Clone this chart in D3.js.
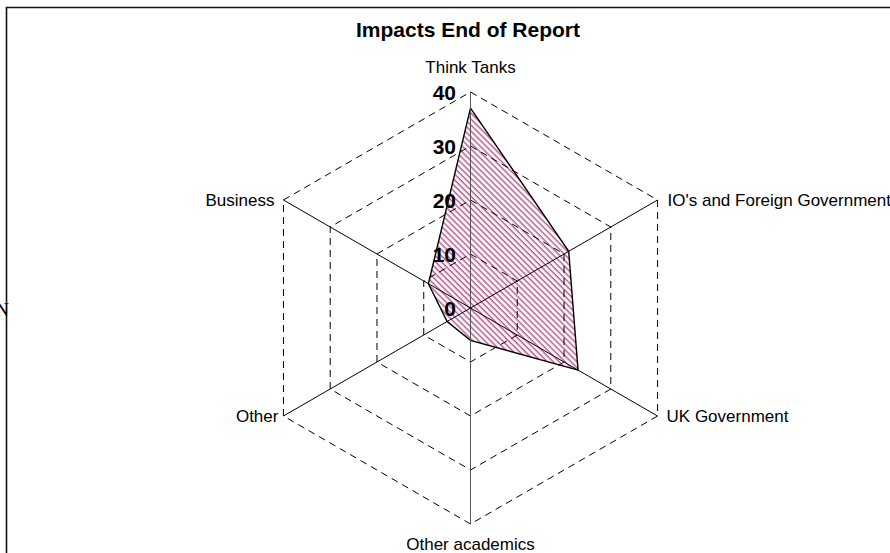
<!DOCTYPE html>
<html><head><meta charset="utf-8">
<script src="https://cdn.jsdelivr.net/npm/d3@7"></script>
<style>html,body{margin:0;padding:0;background:#fff;overflow:hidden}</style>
</head><body>
<svg id="c" width="890" height="553"></svg>
<script>
const categories = ["Think Tanks","IO's and Foreign Government","UK Government","Other academics","Other","Business"];
const values = [37, 21, 23, 6, 5, 9];
const ticks = [0, 10, 20, 30, 40];
const title = "Impacts End of Report";

const svg = d3.select("#c");
const cx = 470.5, cy = 308;
const r = d3.scaleLinear().domain([0, 40]).range([0, 216]);
const angle = d3.scaleLinear().domain([0, categories.length]).range([0, 2 * Math.PI]);
const pt = (i, v) => [cx + r(v) * Math.sin(angle(i)), cy - r(v) * Math.cos(angle(i))];

const defs = svg.append("defs");
const pat = defs.append("pattern").attr("id", "hatch").attr("patternUnits", "userSpaceOnUse")
  .attr("width", 4.2).attr("height", 4.2).attr("patternTransform", "rotate(-45)");
pat.append("rect").attr("width", 4.2).attr("height", 4.2).attr("fill", "#fbf3f7");
pat.append("line").attr("x1", 1).attr("y1", 0).attr("x2", 1).attr("y2", 4.2)
  .attr("stroke", "#b0578a").attr("stroke-width", 1.3);

// border
svg.append("path").attr("d", "M6.5,553V7.5H890").attr("fill", "none").attr("stroke", "#111").attr("stroke-width", 1.6);
svg.append("text").attr("x", 9).attr("y", 316).attr("text-anchor", "end")
  .attr("font-family", "Liberation Serif").attr("font-size", 19).text("N");

// polygon
const line = d3.line().curve(d3.curveLinearClosed);
svg.append("path").attr("d", line(values.map((v, i) => pt(i, v))))
  .attr("fill", "url(#hatch)").attr("stroke", "#000").attr("stroke-width", 1.4);

// grid
ticks.filter(t => t > 0).forEach(t => {
  svg.append("path").attr("d", line(categories.map((c, i) => pt(i, t))))
    .attr("fill", "none").attr("stroke", "#000").attr("stroke-width", 1)
    .attr("stroke-dasharray", "7,5");
});
// axes
categories.forEach((c, i) => {
  const [x, y] = pt(i, 40);
  svg.append("line").attr("x1", cx).attr("y1", cy).attr("x2", x).attr("y2", y)
    .attr("stroke", i === 0 || i === 3 ? "#555" : "#000").attr("stroke-width", 1);
});

// tick labels
ticks.forEach(t => {
  svg.append("text").attr("x", 456).attr("y", cy - r(t)).attr("dy", "0.36em")
    .attr("text-anchor", "end").attr("font-family", "Liberation Sans, Arial")
    .attr("font-weight", "bold").attr("font-size", 21).text(t);
});

// category labels
const lab = [
  {dx: 0, dy: -19, anchor: "middle"},
  {dx: 10, dy: 6, anchor: "start"},
  {dx: 9, dy: 6, anchor: "start"},
  {dx: 0, dy: 26, anchor: "middle"},
  {dx: -5, dy: 6, anchor: "end"},
  {dx: -9, dy: 6, anchor: "end"}
];
categories.forEach((c, i) => {
  const [x, y] = pt(i, 40);
  svg.append("text").attr("x", x + lab[i].dx).attr("y", y + lab[i].dy)
    .attr("text-anchor", lab[i].anchor).attr("font-family", "Liberation Sans, Arial")
    .attr("font-size", 17).attr("fill", "#000").text(c);
});

svg.append("text").attr("x", 468).attr("y", 37).attr("text-anchor", "middle")
  .attr("font-family", "Liberation Sans, Arial").attr("font-weight", "bold")
  .attr("font-size", 21).text(title);
</script>
</body></html>
